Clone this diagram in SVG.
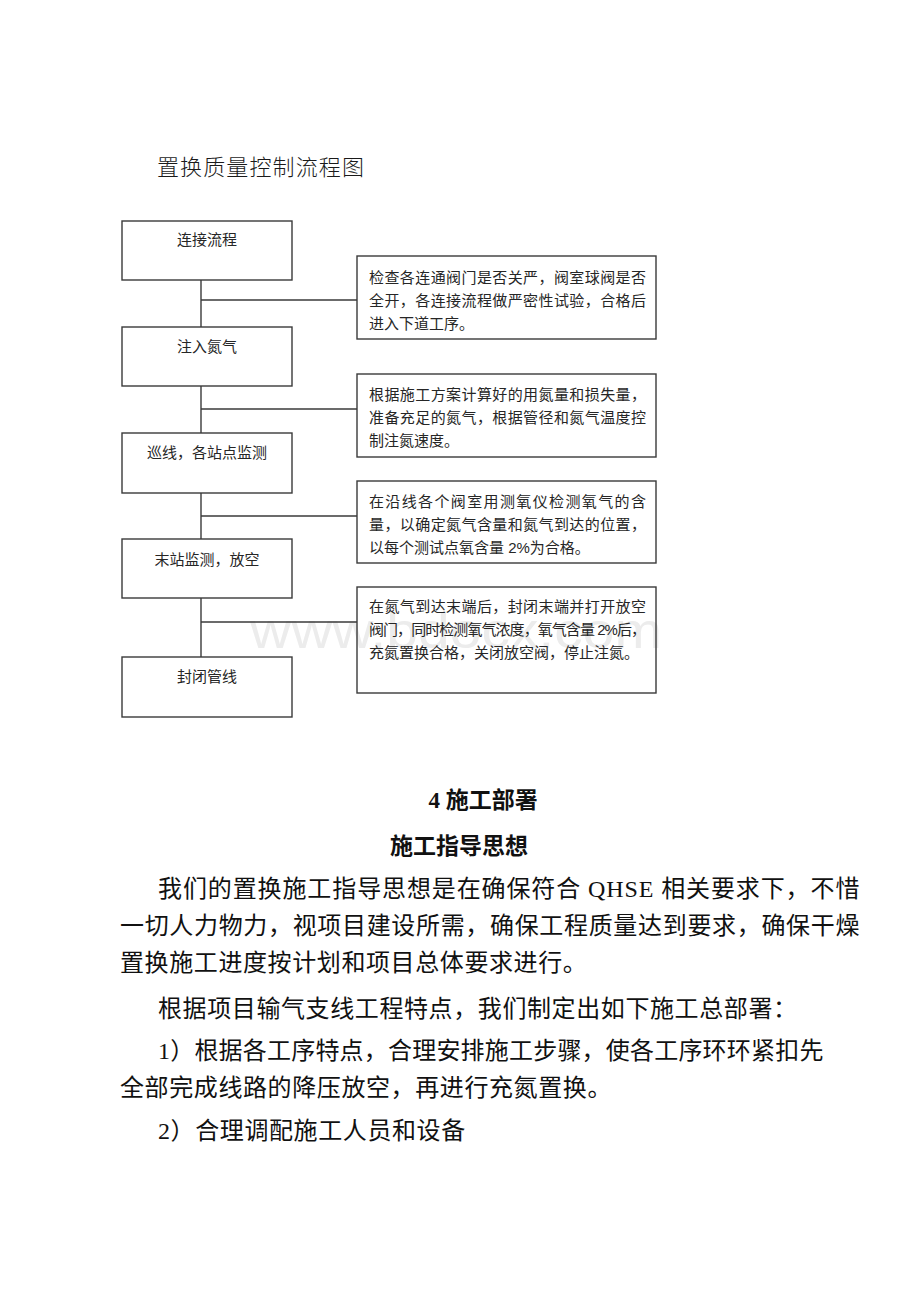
<svg xmlns="http://www.w3.org/2000/svg" width="920" height="1302" viewBox="0 0 920 1302">
<style>
.bg{fill:#ffffff}
.box{fill:none;stroke:#3a3a3a;stroke-width:1.4}
.conn{stroke:#3a3a3a;stroke-width:1.4;fill:none}
.lbl{font-family:"Liberation Sans","Noto Sans CJK SC",sans-serif;font-size:15px;fill:#262626}
.mid{text-anchor:middle}
.title{font-family:"Noto Sans CJK SC",sans-serif;font-size:22px;font-weight:300;fill:#1a1a1a}
.head{font-family:"Liberation Serif","Noto Sans CJK SC",serif;font-size:23px;font-weight:bold;fill:#111;text-anchor:middle}
.para{font-family:"Liberation Serif","Noto Sans CJK SC",serif;font-size:24px;fill:#111;letter-spacing:0.6px}
.wm{font-family:"Liberation Sans",sans-serif;font-size:50px;fill:#ececec}
</style>
<rect class="bg" x="0" y="0" width="920" height="1302"/>
<text class="wm" x="250" y="648" textLength="412" lengthAdjust="spacingAndGlyphs">www.bdocx.com</text>

<text class="title" x="157" y="175" textLength="207" lengthAdjust="spacing">置换质量控制流程图</text>

<g id="connectors">
<line class="conn" x1="201" y1="280" x2="201" y2="327"/>
<line class="conn" x1="201" y1="386" x2="201" y2="433"/>
<line class="conn" x1="201" y1="493" x2="201" y2="539"/>
<line class="conn" x1="201" y1="598" x2="201" y2="657"/>
<line class="conn" x1="201" y1="300" x2="357" y2="300"/>
<line class="conn" x1="201" y1="409" x2="357" y2="409"/>
<line class="conn" x1="201" y1="516" x2="357" y2="516"/>
<line class="conn" x1="201" y1="622" x2="357" y2="622"/>
</g>

<g id="step1">
<rect class="box" x="122" y="221" width="170" height="59"/>
<text class="lbl mid" x="207" y="244.5">连接流程</text>
</g>
<g id="step2">
<rect class="box" x="122" y="327" width="170" height="59"/>
<text class="lbl mid" x="207" y="351.5">注入氮气</text>
</g>
<g id="step3">
<rect class="box" x="122" y="433" width="170" height="60"/>
<text class="lbl mid" x="207" y="457.5">巡线，各站点监测</text>
</g>
<g id="step4">
<rect class="box" x="122" y="539" width="170" height="59"/>
<text class="lbl mid" x="207" y="564.5">末站监测，放空</text>
</g>
<g id="step5">
<rect class="box" x="122" y="657" width="170" height="60"/>
<text class="lbl mid" x="207" y="681.5">封闭管线</text>
</g>

<g id="note1">
<rect class="box" x="357" y="256" width="299" height="83"/>
<text class="lbl" x="369" y="282.5" textLength="277" lengthAdjust="spacing">检查各连通阀门是否关严，阀室球阀是否</text>
<text class="lbl" x="369" y="305.5" textLength="277" lengthAdjust="spacing">全开，各连接流程做严密性试验，合格后</text>
<text class="lbl" x="369" y="328.5">进入下道工序。</text>
</g>
<g id="note2">
<rect class="box" x="357" y="374" width="299" height="83"/>
<text class="lbl" x="369" y="399.5" textLength="277" lengthAdjust="spacing">根据施工方案计算好的用氮量和损失量，</text>
<text class="lbl" x="369" y="422.5" textLength="277" lengthAdjust="spacing">准备充足的氮气，根据管径和氮气温度控</text>
<text class="lbl" x="369" y="445.5">制注氮速度。</text>
</g>
<g id="note3">
<rect class="box" x="357" y="481" width="299" height="82"/>
<text class="lbl" x="369" y="506.5" textLength="277" lengthAdjust="spacing">在沿线各个阀室用测氧仪检测氧气的含</text>
<text class="lbl" x="369" y="529.5" textLength="277" lengthAdjust="spacing">量，以确定氮气含量和氮气到达的位置，</text>
<text class="lbl" x="369" y="552.5">以每个测试点氧含量 2%为合格。</text>
</g>
<g id="note4">
<rect class="box" x="357" y="587" width="299" height="106"/>
<text class="lbl" x="369" y="611.5" textLength="277" lengthAdjust="spacing">在氮气到达末端后，封闭末端并打开放空</text>
<text class="lbl" x="369" y="634.5" textLength="277" lengthAdjust="spacing">阀门，同时检测氧气浓度，氧气含量 2%后，</text>
<text class="lbl" x="369" y="657.5">充氮置换合格，关闭放空阀，停止注氮。</text>
</g>

<text class="head" x="483" y="808">4 施工部署</text>
<text class="head" x="459" y="854">施工指导思想</text>

<text class="para" x="158" y="897" textLength="702" lengthAdjust="spacing">我们的置换施工指导思想是在确保符合 QHSE 相关要求下，不惜</text>
<text class="para" x="120" y="934" textLength="740" lengthAdjust="spacing">一切人力物力，视项目建设所需，确保工程质量达到要求，确保干燥</text>
<text class="para" x="120" y="971">置换施工进度按计划和项目总体要求进行。</text>
<text class="para" x="158" y="1017">根据项目输气支线工程特点，我们制定出如下施工总部署：</text>
<text class="para" x="158" y="1059" textLength="666" lengthAdjust="spacing">1）根据各工序特点，合理安排施工步骤，使各工序环环紧扣先</text>
<text class="para" x="120" y="1096">全部完成线路的降压放空，再进行充氮置换。</text>
<text class="para" x="158" y="1139">2）合理调配施工人员和设备</text>
</svg>
